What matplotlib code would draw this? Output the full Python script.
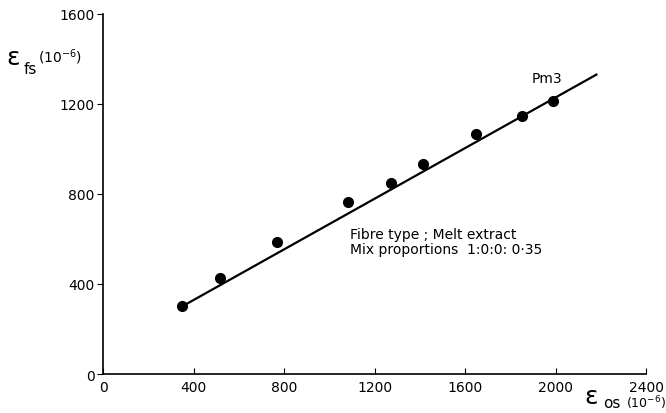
import numpy as np
from matplotlib import pyplot as plt

# data (strain, units of 1e-6)
eps_os = [349, 517, 768, 1082, 1272, 1413, 1647, 1850, 1987]
eps_fs = [302, 427, 587, 764, 849, 933, 1067, 1147, 1213]

fit_x = [349, 2185]
fit_y = [300, 1333]

x_ticks = [0, 400, 800, 1200, 1600, 2000, 2400]
y_ticks = [0, 400, 800, 1200, 1600]

plt.rcParams['font.family'] = ['DejaVu Sans']

fig = plt.figure(figsize=(6.66, 4.14), dpi=100)
ax = fig.add_axes([0.1547, 0.0942, 0.8153, 0.8696])

ax.plot(fit_x, fit_y, color='black', lw=1.6, solid_capstyle='butt')
ax.plot(eps_os, eps_fs, 'o', color='black', ms=7)

ax.set_xlim(0, 2400)
ax.set_ylim(0, 1600)
ax.set_xticks(x_ticks)
ax.set_yticks(y_ticks)
ax.spines['top'].set_visible(False)
ax.spines['right'].set_visible(False)
for s in ['left', 'bottom']:
    ax.spines[s].set_linewidth(1.2)

ax.tick_params(axis='x', direction='in', length=4, labelsize=10, pad=4)
ax.tick_params(axis='y', direction='out', length=4, labelsize=10, pad=2)

# axis labels
fig.text(0.010, 0.860, 'ε', fontsize=18, va='center')
fig.text(0.036, 0.833, 'fs', fontsize=11, va='center')
fig.text(0.057, 0.862, r'(10$^{-6}$)', fontsize=10, va='center')

fig.text(0.878, 0.041, 'ε', fontsize=18, va='center')
fig.text(0.905, 0.025, 'os', fontsize=11, va='center')
fig.text(0.940, 0.026, r'(10$^{-6}$)', fontsize=9, va='center')

ax.text(1960, 1315, 'Pm3', fontsize=10, ha='center', va='center')
ax.text(1090, 622, 'Fibre type ; Melt extract', fontsize=10, va='center')
ax.text(1090, 556, 'Mix proportions  1:0:0: 0·35', fontsize=10, va='center')

plt.savefig('out.png', dpi=100)
